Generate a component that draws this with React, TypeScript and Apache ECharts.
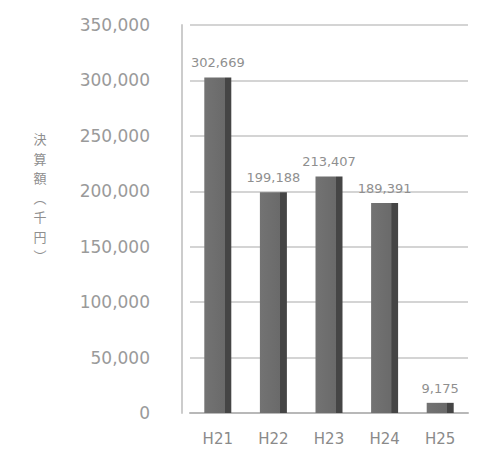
import React, { useEffect, useRef } from "react";
import * as echarts from "echarts";

const categories = ["H21", "H22", "H23", "H24", "H25"];
const values = [302669, 199188, 213407, 189391, 9175];
const yTicks = [0, 50000, 100000, 150000, 200000, 250000, 300000, 350000];
const axisTitleChars = ["決", "算", "額", "︵", "千", "円", "︶"];

const fmt = (v: number) => v.toLocaleString("en-US");

export default function App() {
  const ref = useRef<HTMLDivElement>(null);
  useEffect(() => {
    if (!ref.current) return;
    const chart = echarts.init(ref.current, undefined, { renderer: "svg" });
    chart.setOption({
      animation: false,
      backgroundColor: "#ffffff",
      textStyle: { fontFamily: "DejaVu Sans, Noto Sans CJK JP, sans-serif" },
      grid: { left: 182, right: 26, top: 17, bottom: 45 },
      graphic: [
        {
          type: "group",
          x: 32,
          y: 124,
          children: axisTitleChars.map((ch, i) => ({
            type: "text",
            x: 0,
            y: i * 19.5,
            style: {
              text: ch,
              fill: "#8f8f8f",
              fontSize: 13,
              lineHeight: 13,
              fontFamily: "Noto Sans CJK JP, sans-serif",
              align: "center",
              verticalAlign: "top",
            },
          })),
        },
      ],
      xAxis: {
        type: "category",
        data: categories,
        axisLine: { show: true, lineStyle: { color: "#b8b8b8", width: 2 } },
        axisTick: { show: false },
        axisLabel: { color: "#8a8a8a", fontSize: 15, margin: 18 },
      },
      yAxis: {
        type: "value",
        min: yTicks[0],
        max: yTicks[yTicks.length - 1],
        interval: 50000,
        offset: 8,
        axisLine: { show: true, lineStyle: { color: "#cccccc", width: 2 } },
        axisTick: { show: false },
        axisLabel: {
          color: "#9a9a9a",
          fontSize: 17,
          margin: 32,
          formatter: (v: number) => fmt(v),
        },
        splitLine: { show: true, lineStyle: { color: "#d4d4d4", width: 2 } },
      },
      series: [
        {
          type: "bar",
          data: values,
          barWidth: 27,
          itemStyle: {
            color: new echarts.graphic.LinearGradient(0, 0, 1, 0, [
              { offset: 0, color: "#737373" },
              { offset: 0.75, color: "#6a6a6a" },
              { offset: 0.76, color: "#454545" },
              { offset: 1, color: "#454545" },
            ]),
          },
          label: {
            show: true,
            position: "top",
            distance: 8,
            color: "#8f8f8f",
            fontSize: 13,
            formatter: (p: any) => fmt(p.value),
          },
        },
      ],
    });
    return () => chart.dispose();
  }, []);
  return <div ref={ref} style={{ width: 486, height: 450 }} />;
}
